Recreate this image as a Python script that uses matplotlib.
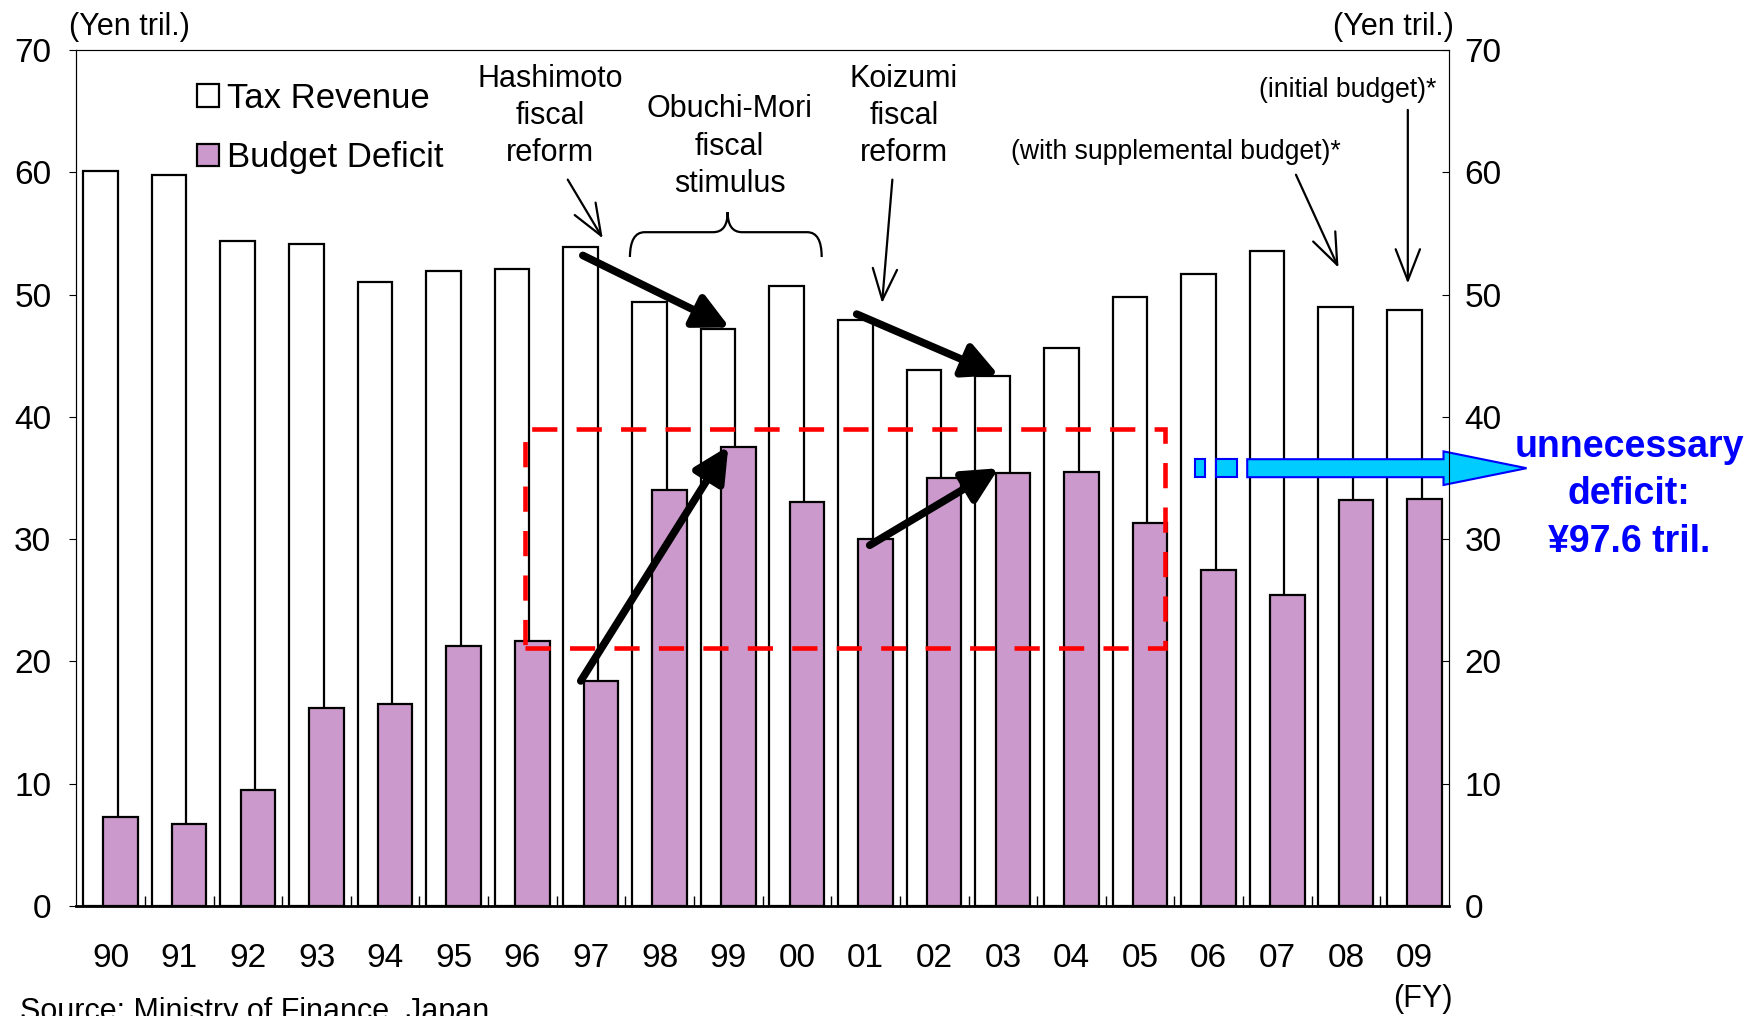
import matplotlib
matplotlib.use("Agg")
import matplotlib.pyplot as plt
import numpy as np
from matplotlib.patches import Rectangle, FancyArrow, PathPatch
from matplotlib.path import Path

plt.rcParams["font.family"] = ["Liberation Sans", "DejaVu Sans"]

years = ["90", "91", "92", "93", "94", "95", "96", "97", "98", "99",
         "00", "01", "02", "03", "04", "05", "06", "07", "08", "09"]
tax_revenue = [60.1, 59.8, 54.4, 54.1, 51.0, 51.9, 52.1, 53.9, 49.4, 47.2,
               50.7, 47.9, 43.8, 43.3, 45.6, 49.8, 51.7, 53.6, 49.0, 48.7]
budget_deficit = [7.3, 6.7, 9.5, 16.2, 16.5, 21.3, 21.7, 18.4, 34.0, 37.5,
                  33.0, 30.0, 35.0, 35.4, 35.5, 31.3, 27.5, 25.4, 33.2, 33.3]

x = np.arange(len(years))

fig = plt.figure(figsize=(17.5, 10.16), dpi=100)
ax = fig.add_axes([0.0436, 0.1083, 0.828 - 0.0436, 0.9508 - 0.1083])

b1 = ax.bar(x - 0.15, tax_revenue, width=0.505, color="white",
            edgecolor="black", linewidth=1.6, zorder=2, label="Tax Revenue")
b2 = ax.bar(x + 0.145, budget_deficit, width=0.503, color="#CC99CC",
            edgecolor="black", linewidth=1.6, zorder=3, label="Budget Deficit")

ax.set_xlim(-0.5, len(years) - 0.5)
ax.set_ylim(0, 70)
ax.set_yticks(range(0, 71, 10))
ax.tick_params(axis="y", labelsize=24, direction="out", length=5, pad=13)
ax.set_xticks(x)
ax.set_xticklabels(years)
ax.tick_params(axis="x", which="major", labelsize=24, length=0, pad=27)
ax.set_xticks(np.arange(0.5, len(years) - 1, 1), minor=True)
ax.tick_params(axis="x", which="minor", direction="in", length=7, width=1)
for s in ["top", "right"]:
    ax.spines[s].set_color("#555555")
ax.spines["bottom"].set_linewidth(2)

ax2 = ax.twinx()
ax2.set_ylim(0, 70)
ax2.set_yticks(range(0, 71, 10))
ax2.tick_params(axis="y", labelsize=24, direction="in", length=5, pad=11)

leg = ax.legend(handles=[b1, b2], loc="upper left", bbox_to_anchor=(0.088, 0.963),
                frameon=False, fontsize=25, handlelength=0.62, handleheight=0.62,
                handletextpad=0.25, labelspacing=0.76, borderpad=0, borderaxespad=0)

# red dashed box
ax.add_patch(Rectangle((6.04, 21.1), 15.36 - 6.04, 39.0 - 21.1, fill=False,
                       edgecolor="#FF0000", linewidth=3.3,
                       linestyle=(0, (5.5, 4.2)), zorder=6))

# thick arrows
thick = dict(arrowstyle="-|>,head_length=0.7,head_width=0.35", color="black",
             lw=5.5, mutation_scale=30, shrinkA=0, shrinkB=0)
ax.annotate("", xy=(9.02, 47.3), xytext=(6.88, 53.2), arrowprops=thick, zorder=7)
ax.annotate("", xy=(12.94, 43.4), xytext=(10.87, 48.4), arrowprops=thick, zorder=7)
ax.annotate("", xy=(9.0, 37.6), xytext=(6.85, 18.4), arrowprops=thick, zorder=7)
ax.annotate("", xy=(12.94, 35.8), xytext=(11.06, 29.5), arrowprops=thick, zorder=7)

# thin arrows and labels
thin = dict(arrowstyle="->,head_length=0.9,head_width=0.35", color="black",
            lw=1.6, mutation_scale=25, shrinkA=0, shrinkB=0)
ax.annotate("", xy=(7.17, 54.6), xytext=(6.66, 59.4), arrowprops=thin)
ax.annotate("", xy=(11.24, 49.3), xytext=(11.39, 59.4), arrowprops=thin)
ax.annotate("", xy=(17.89, 52.2), xytext=(17.27, 59.8), arrowprops=thin)
ax.annotate("", xy=(18.9, 50.9), xytext=(18.9, 65.1), arrowprops=thin)

ax.text(6.40, 64.6, "Hashimoto\nfiscal\nreform", ha="center", va="center",
        fontsize=22, linespacing=1.32)
ax.text(9.02, 62.1, "Obuchi-Mori\nfiscal\nstimulus", ha="center", va="center",
        fontsize=22, linespacing=1.32)
ax.text(11.56, 64.6, "Koizumi\nfiscal\nreform", ha="center", va="center",
        fontsize=22, linespacing=1.32)
ax.text(15.52, 61.65, "(with supplemental budget)*", ha="center", va="center",
        fontsize=19.2)
ax.text(19.32, 66.7, "(initial budget)*", ha="right", va="center", fontsize=19.2)

# brace
verts = [(7.566, 53.07), (7.57, 55.1), (7.78, 55.1), (8.78, 55.1),
         (8.99, 55.1), (8.99, 56.75), (8.99, 55.1), (9.2, 55.1),
         (10.15, 55.1), (10.36, 55.1), (10.36, 53.07)]
codes = [Path.MOVETO, Path.CURVE3, Path.CURVE3, Path.LINETO,
         Path.CURVE3, Path.CURVE3, Path.CURVE3, Path.CURVE3,
         Path.LINETO, Path.CURVE3, Path.CURVE3]
ax.add_patch(PathPatch(Path(verts, codes), fill=False, lw=1.6, color="black"))

# cyan arrow
cyan_kw = dict(facecolor="#00CCFF", edgecolor="#0000FF", linewidth=1.5,
               clip_on=False, zorder=8)
ax.add_patch(Rectangle((15.80, 35.08), 0.14, 1.47, **cyan_kw))
ax.add_patch(Rectangle((16.10, 35.08), 0.31, 1.47, **cyan_kw))
ax.add_patch(FancyArrow(16.56, 35.8, 20.63 - 16.56, 0, width=1.47, head_width=2.75,
                        head_length=1.21, length_includes_head=True, **cyan_kw))

fig.text(0.931, 0.5135, "unnecessary\ndeficit:\n¥97.6 tril.", ha="center",
         va="center", fontsize=27, fontweight="bold", color="#0000FF",
         linespacing=1.42)

fig.text(0.0394, 0.973, "(Yen tril.)", ha="left", va="center", fontsize=22)
fig.text(0.831, 0.973, "(Yen tril.)", ha="right", va="center", fontsize=22)
fig.text(0.83, 0.0167, "(FY)", ha="right", va="center", fontsize=22)
fig.text(0.0114, -0.004, "Source: Ministry of Finance, Japan", ha="left",
         va="baseline", fontsize=22)

fig.savefig("out.png", dpi=100)
